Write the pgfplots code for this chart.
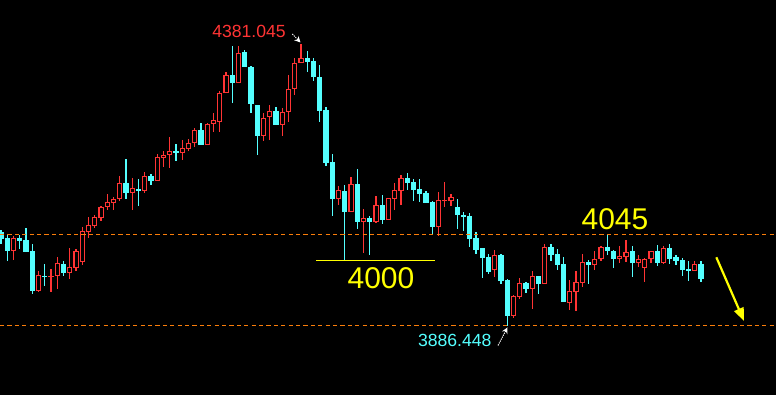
\documentclass[border=0pt]{standalone}
\usepackage{pgfplots}
\pgfplotsset{compat=1.18}
\usepackage{pgfplotstable}
\usepackage{fontspec}
\setmainfont{Liberation Sans}
\usetikzlibrary{arrows.meta}
\definecolor{cRed}{RGB}{255,52,52}
\definecolor{cCyan}{RGB}{84,255,255}
\definecolor{cOrange}{RGB}{250,125,10}
\definecolor{cYellow}{RGB}{255,255,0}

% red (rising) candles: x o h l c
\pgfplotstableread{
x o h l c
3 4018.0 4044.3 4002.2 4040.8
7 3947.8 3982.9 3946.0 3975.9
9 3972.3 3986.4 3946.0 3974.1
10 3974.1 4007.4 3951.3 3996.9
12 3979.4 4023.2 3968.8 3989.9
13 3988.1 4021.5 3982.9 4018.0
14 3998.7 4060.0 3993.4 4053.0
15 4051.3 4077.6 4040.8 4063.6
16 4061.8 4081.1 4058.3 4077.6
17 4075.8 4096.9 4070.6 4095.1
18 4095.1 4117.9 4089.9 4103.9
19 4102.1 4112.7 4089.9 4109.2
20 4109.2 4149.5 4105.6 4137.2
22 4119.7 4146.0 4089.9 4128.5
24 4123.2 4156.5 4119.7 4149.5
26 4140.7 4188.1 4140.7 4182.8
27 4181.1 4193.3 4165.3 4186.3
28 4186.3 4217.9 4163.5 4193.3
30 4189.8 4212.6 4177.6 4198.6
31 4196.9 4214.4 4193.3 4207.4
32 4207.4 4233.7 4200.4 4230.2
34 4203.9 4242.5 4203.9 4240.7
35 4240.7 4260.0 4226.7 4247.7
36 4244.2 4298.6 4226.7 4295.1
37 4295.1 4331.9 4295.1 4326.6
39 4312.6 4377.5 4312.6 4365.2
43 4219.7 4260.0 4210.9 4251.2
44 4253.0 4274.0 4212.6 4263.5
46 4239.0 4268.8 4219.7 4261.8
47 4261.8 4326.6 4244.2 4302.1
48 4302.1 4356.5 4291.6 4347.7
49 4347.7 4381.0 4347.7 4356.5
55 4109.2 4132.0 4098.6 4124.9
57 4086.4 4147.7 4086.4 4135.5
59 4068.8 4091.6 4014.4 4075.8
61 4068.8 4114.4 4067.1 4098.6
63 4072.3 4110.9 4072.3 4110.9
64 4109.2 4137.2 4089.9 4124.9
65 4123.2 4151.3 4098.6 4146.0
71 4060.0 4121.4 4044.3 4107.4
72 4105.6 4139.0 4095.1 4107.4
73 4105.6 4117.9 4096.9 4112.7
80 3984.6 4019.7 3972.3 4010.9
83 3903.9 3940.8 3900.4 3939.0
84 3937.3 3970.6 3933.8 3961.8
86 3951.3 3982.9 3916.2 3974.1
88 3960.1 4030.2 3960.1 4025.0
92 3926.7 3967.1 3914.5 3947.8
93 3946.0 3982.9 3912.7 3963.6
94 3961.8 4012.7 3954.8 3998.7
96 3993.4 4018.0 3984.6 4003.9
97 4003.9 4026.7 4000.4 4025.0
100 4003.9 4026.7 3996.9 4009.2
101 4007.4 4037.2 3998.7 4016.2
103 3996.9 4010.9 3989.9 4003.9
104 3988.1 4005.7 3963.6 4003.9
105 4003.9 4018.0 3996.9 4018.0
107 3996.9 4026.7 3995.1 4023.2
112 3982.9 4000.4 3982.9 3995.1
}\reddata

% cyan (falling) candles: x o h l c
\pgfplotstableread{
x o h l c
1 4051.3 4054.8 4030.2 4039.0
2 4040.8 4046.0 4000.4 4018.0
4 4040.8 4046.0 4021.5 4035.5
5 4037.2 4058.3 4016.2 4016.2
6 4018.0 4030.2 3942.5 3947.8
8 3974.1 3995.1 3956.6 3972.3
11 3995.1 4000.4 3974.1 3979.4
21 4137.2 4179.3 4109.2 4119.7
23 4126.7 4144.2 4096.9 4123.2
25 4149.5 4153.0 4133.7 4140.7
29 4193.3 4205.6 4175.8 4189.8
33 4230.2 4242.5 4203.9 4203.9
38 4326.6 4377.5 4277.5 4312.6
40 4367.0 4370.5 4340.7 4340.7
41 4340.7 4342.4 4260.0 4275.8
42 4274.0 4274.0 4186.3 4219.7
45 4263.5 4270.5 4239.0 4239.0
50 4356.5 4368.7 4331.9 4349.5
51 4351.2 4356.5 4316.1 4323.1
52 4323.1 4344.2 4244.2 4263.5
53 4265.3 4270.5 4167.0 4172.3
54 4174.1 4188.1 4079.3 4109.2
56 4123.2 4133.7 4002.2 4086.4
58 4135.5 4161.8 4056.5 4068.8
60 4075.8 4079.3 4010.9 4068.8
62 4098.6 4116.2 4065.3 4072.3
66 4146.0 4154.8 4124.9 4137.2
67 4139.0 4144.2 4105.6 4124.9
68 4126.7 4144.2 4103.9 4117.9
69 4119.7 4123.2 4102.1 4102.1
70 4103.9 4105.6 4046.0 4060.0
74 4095.1 4109.2 4056.5 4081.1
75 4081.1 4086.4 4053.0 4077.6
76 4079.3 4084.6 4025.0 4039.0
77 4040.8 4051.3 4012.7 4019.7
78 4023.2 4023.2 3970.6 4005.7
79 4007.4 4012.7 3977.6 3981.1
81 4010.9 4012.7 3960.1 3965.3
82 3967.1 3968.8 3886.4 3903.9
85 3961.8 3963.6 3944.3 3951.3
87 3974.1 3974.1 3942.5 3960.1
89 4025.0 4030.2 4000.4 4010.9
90 4012.7 4021.5 3984.6 3993.4
91 3995.1 4007.4 3928.5 3928.5
95 3998.7 4002.2 3960.1 3993.4
98 4025.0 4046.0 4010.9 4018.0
99 4018.0 4019.7 3988.1 4003.9
102 4018.0 4026.7 3972.3 3996.9
106 4018.0 4028.5 3991.6 3996.9
108 4023.2 4030.2 3995.1 4003.9
109 4007.4 4010.9 3993.4 4000.4
110 4002.2 4005.7 3974.1 3984.6
111 3986.4 4000.4 3965.3 3982.9
113 3995.1 4000.4 3963.6 3968.8
}\cyandata

\begin{document}
\begin{tikzpicture}
\begin{axis}[
  scale only axis,
  width=388pt, height=197.5pt,
  xmin=0.84, xmax=125,
  ymin=3765.3, ymax=4458.2,
  axis line style={draw=none},
  xtick=\empty, ytick=\empty,
  axis background/.style={fill=black},
  clip=true,
]
% red wicks
\addplot[draw=none, mark=none, error bars/.cd, y dir=plus, y explicit, error mark=none,
  error bar style={draw=cRed, line width=0.55pt, line cap=butt}]
  table[x=x, y=l, y error expr=\thisrow{h}-\thisrow{l}] {\reddata};
% red bodies
\addplot[draw=none, mark=none, error bars/.cd, y dir=plus, y explicit, error mark=none,
  error bar style={draw=cRed, line width=2.6pt, line cap=butt}]
  table[x=x, y=o, y error expr=\thisrow{c}-\thisrow{o}] {\reddata};
% hollow inside of red bodies
\addplot[draw=none, mark=none, error bars/.cd, y dir=plus, y explicit, error mark=none,
  error bar style={draw=black, line width=1.5pt, line cap=butt}]
  table[x=x, y expr=\thisrow{o}+1.9, y error expr={max(\thisrow{c}-\thisrow{o}-3.8,0)}] {\reddata};
% cyan wicks
\addplot[draw=none, mark=none, error bars/.cd, y dir=plus, y explicit, error mark=none,
  error bar style={draw=cCyan, line width=0.55pt, line cap=butt}]
  table[x=x, y=l, y error expr=\thisrow{h}-\thisrow{l}] {\cyandata};
% cyan bodies
\addplot[draw=none, mark=none, error bars/.cd, y dir=plus, y explicit, error mark=none,
  error bar style={draw=cCyan, line width=2.6pt, line cap=butt}]
  table[x=x, y=c, y error expr=\thisrow{o}-\thisrow{c}] {\cyandata};

% reference lines
\draw[cOrange, line width=0.65pt, dash pattern=on 2.1pt off 1.6pt] (axis cs:0.84,4047.2) -- (axis cs:125,4047.2);
\draw[cOrange, line width=0.65pt, dash pattern=on 2.1pt off 1.6pt] (axis cs:0.84,3887.6) -- (axis cs:125,3887.6);
\draw[cYellow, line width=0.75pt] (axis cs:51.4,4001.0) -- (axis cs:70.44,4001.0);

% labels
\node[cYellow, inner sep=0pt, anchor=center, font=\fontsize{15pt}{15pt}\selectfont] at (axis cs:61.8,3969.7) {4000};
\node[cYellow, inner sep=0pt, anchor=center, font=\fontsize{15pt}{15pt}\selectfont] at (axis cs:99.24,4074.4) {4045};
\node[cRed, inner sep=0pt, anchor=center, font=\fontsize{8.8pt}{8.8pt}\selectfont] at (axis cs:40.68,4403.5) {4381.045};
\node[cCyan, inner sep=0pt, anchor=center, font=\fontsize{8.8pt}{8.8pt}\selectfont] at (axis cs:73.6,3861.0) {3886.448};

% arrows
\draw[white, line width=0.5pt, dash pattern=on 0.6pt off 0.5pt, -{Stealth[length=3pt,width=3pt]}] (axis cs:47.61,4398.6) -- (axis cs:48.92,4383.7);
\draw[white, line width=0.5pt, dash pattern=on 0.6pt off 0.5pt, -{Stealth[length=3pt,width=3pt]}] (axis cs:80.52,3852.2) -- (axis cs:82.04,3883.8);
\draw[cYellow, line width=1.1pt, -{Triangle[length=6.5pt,width=5pt]}] (axis cs:115.45,4006.9) -- (axis cs:119.88,3895.2);
\end{axis}
\end{tikzpicture}
\end{document}
